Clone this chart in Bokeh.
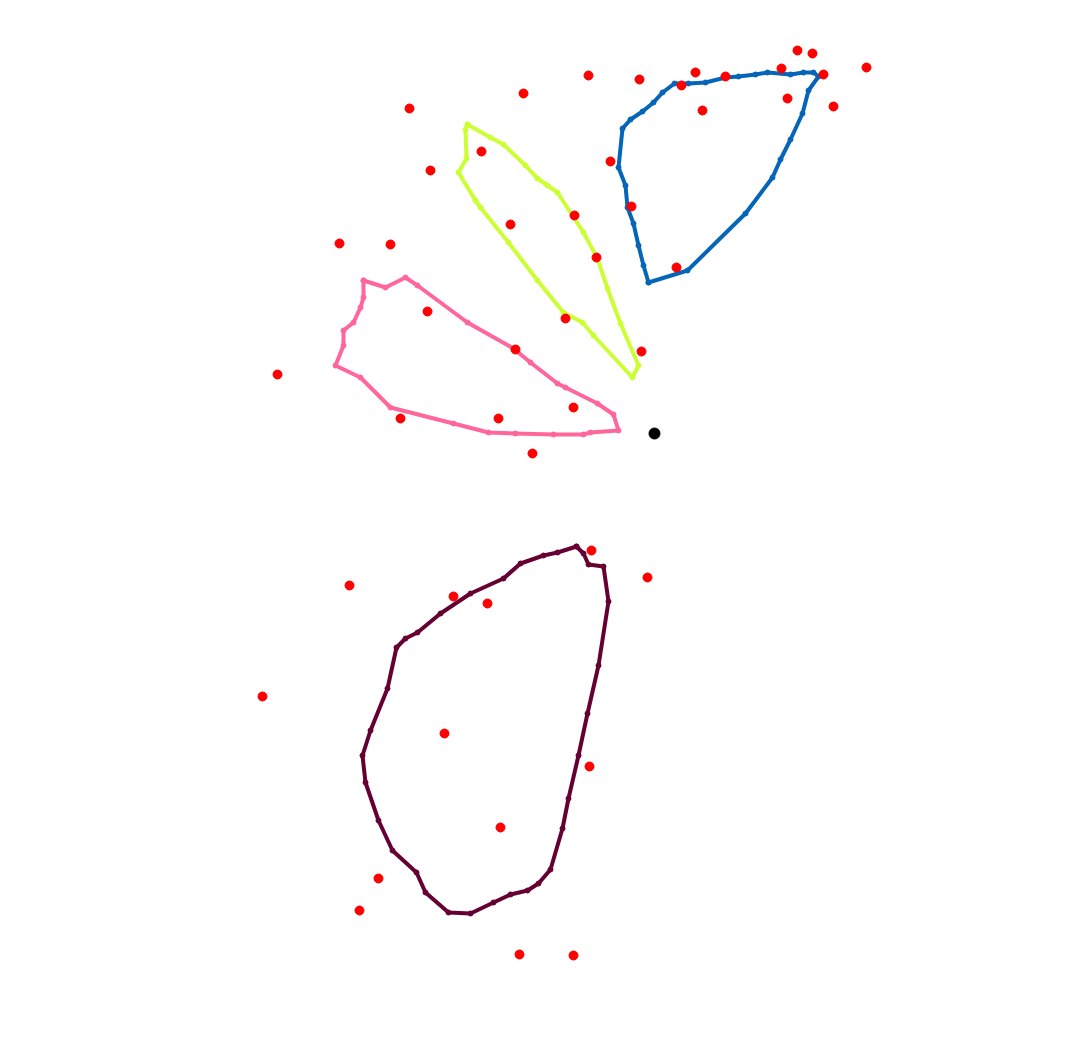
from bokeh.plotting import figure
from bokeh.models import Range1d
from bokeh.embed import file_html
from bokeh.resources import INLINE

blue_x = [648, 687, 745, 772, 780, 790, 802, 808, 818, 813, 803, 790, 767, 755, 738, 725, 705, 688, 674, 662, 653, 642, 630, 622, 618, 625, 627, 633, 638, 643, 648]
blue_y = [282, 270, 213, 177, 159, 139, 113, 90, 76, 72, 72, 74, 72, 74, 76, 77, 82, 83, 83, 92, 102, 111, 119, 128, 167, 185, 207, 223, 245, 265, 282]

yellow_x = [467, 465, 466, 458, 475, 480, 508, 537, 563, 582, 593, 632, 638, 620, 607, 597, 583, 557, 547, 537, 525, 503, 490, 467]
yellow_y = [124, 129, 158, 172, 200, 207, 242, 280, 312, 322, 335, 377, 365, 323, 288, 258, 232, 192, 185, 178, 165, 144, 137, 124]

pink_x = [363, 385, 405, 417, 467, 513, 530, 557, 565, 597, 613, 618, 590, 583, 553, 515, 488, 453, 390, 360, 335, 343, 343, 353, 360, 363, 363]
pink_y = [280, 287, 277, 285, 322, 348, 362, 383, 387, 403, 414, 430, 432, 434, 434, 433, 432, 423, 407, 377, 365, 345, 330, 322, 307, 297, 280]

maroon_x = [576, 583, 588, 603, 608, 598, 587, 578, 568, 562, 550, 538, 527, 510, 493, 470, 448, 425, 416, 392, 378, 365, 362, 370, 387, 396, 405, 417, 440, 470, 503, 520, 543, 557, 576]
maroon_y = [546, 553, 564, 566, 601, 665, 713, 755, 798, 828, 869, 883, 890, 894, 902, 913, 912, 892, 872, 850, 820, 782, 755, 730, 688, 647, 638, 632, 613, 593, 578, 563, 555, 552, 546]

red_x = [409, 523, 588, 639, 695, 725, 681, 702, 781, 797, 812, 823, 866, 787, 833, 610, 631, 676, 430, 481, 510, 574, 596, 339, 390, 427, 565, 641, 515, 277, 400, 498, 573, 532, 591, 647, 349, 453, 487, 262, 444, 589, 500, 378, 359, 519, 573]
red_y = [108, 93, 75, 79, 72, 76, 85, 110, 68, 50, 53, 74, 67, 98, 106, 161, 206, 267, 170, 151, 224, 215, 257, 243, 244, 311, 318, 351, 349, 374, 418, 418, 407, 453, 550, 577, 585, 596, 603, 696, 733, 766, 827, 878, 910, 954, 955]

center_x = [654]
center_y = [433]

p = figure(width=1067, height=1050, output_backend="svg", toolbar_location=None,
           x_range=Range1d(0, 1067), y_range=Range1d(1050, 0), min_border=0)
p.axis.visible = False
p.grid.visible = False
p.outline_line_color = None
p.background_fill_color = "white"

series = [
    (blue_x, blue_y, "#0565b8"),
    (yellow_x, yellow_y, "#ccff33"),
    (pink_x, pink_y, "#ff6699"),
    (maroon_x, maroon_y, "#660033"),
]
for xs, ys, c in series:
    p.line(xs, ys, line_color=c, line_width=4, line_join="round")
    p.scatter(xs, ys, size=5, fill_color=c, line_color=c)

p.scatter(red_x, red_y, size=9, fill_color="#ff0000", line_color="#ff0000")
p.scatter(center_x, center_y, size=11, fill_color="black", line_color="black")

open("out.html", "w").write(file_html(p, INLINE))
